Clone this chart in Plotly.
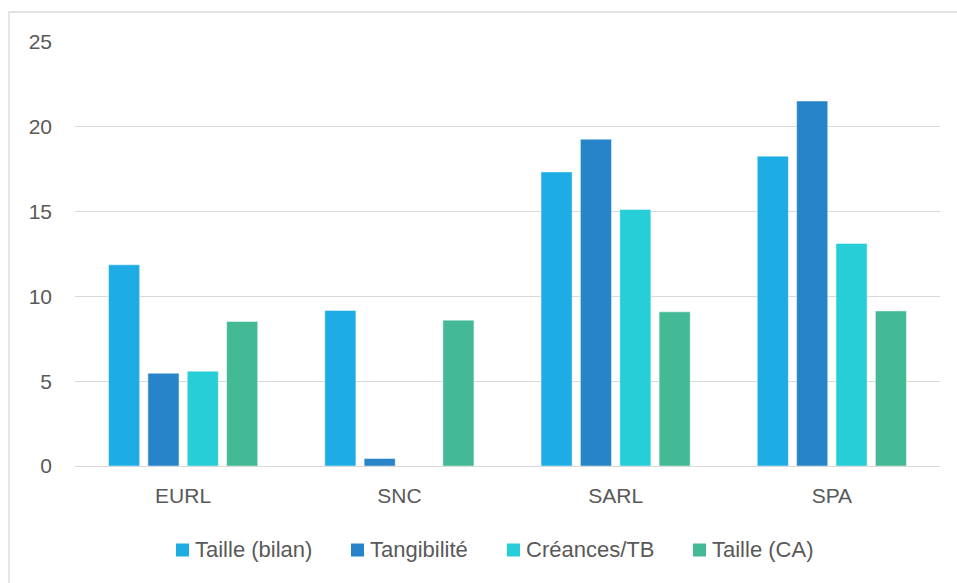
import plotly.graph_objects as go

# Legal forms on the x axis
categories = ["EURL", "SNC", "SARL", "SPA"]

# Series values per legal form
taille_bilan = [11.86, 9.17, 17.34, 18.27]
tangibilite = [5.47, 0.44, 19.27, 21.52]
creances_tb = [5.59, 0.0, 15.13, 13.12]
taille_ca = [8.52, 8.60, 9.09, 9.14]

series_names = ["Taille (bilan)", "Tangibilité", "Créances/TB", "Taille (CA)"]
series_values = [taille_bilan, tangibilite, creances_tb, taille_ca]
series_colors = ["#1EACE4", "#2784C8", "#27CDD7", "#43B995"]

y_ticks = [0, 5, 10, 15, 20, 25]

text_color = "#595959"
font_family = "Liberation Sans, Arial, sans-serif"

# Plot area geometry in pixels (used to place the frame and the legend)
W, H = 957, 583
L, R, T, B = 75, 17, 42, 117
plot_w = W - L - R
plot_h = H - T - B


def px_x(x):
    return (x - L) / plot_w


def px_y(y):
    return (H - B - y) / plot_h


fig = go.Figure()
for name, vals, color in zip(series_names, series_values, series_colors):
    fig.add_trace(go.Bar(
        name=name,
        x=categories,
        y=vals,
        marker=dict(color=color, line=dict(color="rgba(255,255,255,0.45)", width=1)),
        showlegend=False,
    ))

# Legend drawn as coloured squares followed by labels
legend_square_left = [176, 351, 507, 693]
square_size = 13
legend_mid_y = 550
shapes = [
    dict(
        type="rect", xref="paper", yref="paper",
        x0=px_x(9), x1=1.2, y0=-0.4, y1=px_y(12),
        line=dict(color="#D9D9D9", width=1.3),
        fillcolor="rgba(0,0,0,0)", layer="below",
    )
]
annotations = []
for name, color, sx in zip(series_names, series_colors, legend_square_left):
    shapes.append(dict(
        type="rect", xref="paper", yref="paper",
        x0=px_x(sx), x1=px_x(sx + square_size),
        y0=px_y(legend_mid_y + square_size / 2), y1=px_y(legend_mid_y - square_size / 2),
        line=dict(width=0), fillcolor=color,
    ))
    annotations.append(dict(
        xref="paper", yref="paper",
        x=px_x(sx + square_size + 4), y=px_y(legend_mid_y - 1),
        xanchor="left", yanchor="middle",
        text=name, showarrow=False,
        font=dict(family=font_family, size=22, color=text_color),
    ))

fig.update_layout(
    width=W,
    height=H,
    margin=dict(l=L, r=R, t=T, b=B),
    paper_bgcolor="white",
    plot_bgcolor="white",
    barmode="group",
    bargap=0.272,
    bargroupgap=0.21,
    font=dict(family=font_family, size=21, color=text_color),
    showlegend=False,
    xaxis=dict(
        showgrid=False,
        showline=False,
        zeroline=False,
        ticks="",
        tickfont=dict(size=21, color=text_color),
        ticklabelstandoff=15,
    ),
    yaxis=dict(
        range=[0, 25],
        tickvals=y_ticks,
        showgrid=True,
        gridcolor="#D9D9D9",
        gridwidth=1.3,
        zeroline=True,
        zerolinecolor="#D9D9D9",
        zerolinewidth=1.3,
        showline=False,
        ticks="",
        tickfont=dict(size=21, color=text_color),
        ticklabelstandoff=22,
    ),
    shapes=shapes,
    annotations=annotations,
)

fig.write_html("out.html")
